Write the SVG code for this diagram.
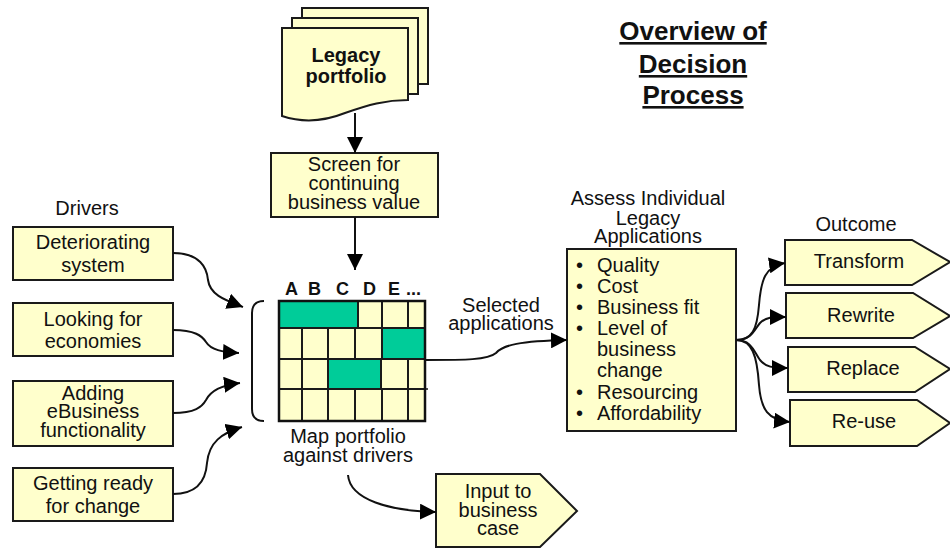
<svg xmlns="http://www.w3.org/2000/svg" width="950" height="549" viewBox="0 0 950 549">
<defs>
<style>
text{font-family:"Liberation Sans",Arial,sans-serif;font-size:20px;fill:#111;text-anchor:middle}
.b{font-weight:bold}
.t{font-weight:bold;font-size:26px;text-decoration:underline}
.hd{font-weight:bold;font-size:18px;text-anchor:start}
.l{text-anchor:start}
.box{fill:#FFFFCC;stroke:#1a1a1a;stroke-width:2}
.g{fill:#00CC99;stroke:#1a1a1a;stroke-width:2}
.c{fill:none;stroke:#111;stroke-width:2}
</style>
<marker id="ah" markerUnits="userSpaceOnUse" markerWidth="16" markerHeight="16" refX="16" refY="8" orient="auto">
<path d="M0,0 L16,8 L0,16 Z" fill="#000"/>
</marker>
</defs>
<rect width="950" height="549" fill="#fff"/>

<g id="title">
<text class="t" x="693" y="40">Overview of</text>
<text class="t" x="693" y="73">Decision</text>
<text class="t" x="693" y="104">Process</text>
</g>

<g id="legacy">
<rect class="box" x="302" y="8" width="126" height="76"/>
<rect class="box" x="292" y="18" width="126" height="76"/>
<path class="box" d="M282,28 H408 V100 C385,100 368,105 345,113 C320,123 300,122 282,116 Z"/>
<text class="b" x="346" y="62">Legacy</text>
<text class="b" x="346" y="83">portfolio</text>
</g>

<g id="screen">
<rect class="box" x="271" y="153" width="167" height="64"/>
<text x="354" y="171">Screen for</text>
<text x="354" y="190">continuing</text>
<text x="354" y="209">business value</text>
</g>

<g id="drivers-label"><text x="87" y="215">Drivers</text></g>

<g id="d1">
<rect class="box" x="13" y="227" width="160" height="53"/>
<text x="93" y="249">Deteriorating</text>
<text x="93" y="272">system</text>
</g>
<g id="d2">
<rect class="box" x="13" y="303" width="160" height="53"/>
<text x="93" y="326">Looking for</text>
<text x="93" y="348">economies</text>
</g>
<g id="d3">
<rect class="box" x="13" y="381" width="160" height="65"/>
<text x="93" y="400">Adding</text>
<text x="93" y="418">eBusiness</text>
<text x="93" y="437">functionality</text>
</g>
<g id="d4">
<rect class="box" x="13" y="468" width="160" height="53"/>
<text x="93" y="490">Getting ready</text>
<text x="93" y="513">for change</text>
</g>

<g id="grid">
<path class="c" d="M264,301 C256,301 252,305 252,313 L252,409 C252,417 256,421 264,421"/>
<text class="hd" x="285" y="295">A</text>
<text class="hd" x="308" y="295">B</text>
<text class="hd" x="336" y="295">C</text>
<text class="hd" x="363" y="295">D</text>
<text class="hd" x="388" y="295">E</text>
<text class="hd" x="406" y="295">...</text>
<rect class="g" x="279" y="301" width="79" height="27"/>
<rect class="box" x="358" y="301" width="24" height="27"/>
<rect class="box" x="382" y="301" width="26" height="27"/>
<rect class="box" x="408" y="301" width="17" height="27"/>
<rect class="box" x="279" y="328" width="23" height="31"/>
<rect class="box" x="302" y="328" width="26" height="31"/>
<rect class="box" x="328" y="328" width="27" height="31"/>
<rect class="box" x="355" y="328" width="27" height="31"/>
<rect class="g" x="382" y="328" width="43" height="31"/>
<rect class="box" x="279" y="359" width="23" height="30"/>
<rect class="box" x="302" y="359" width="26" height="30"/>
<rect class="g" x="328" y="359" width="53" height="30"/>
<rect class="box" x="381" y="359" width="27" height="30"/>
<rect class="box" x="408" y="359" width="17" height="30"/>
<rect class="box" x="279" y="389" width="23" height="32"/>
<rect class="box" x="302" y="389" width="26" height="32"/>
<rect class="box" x="328" y="389" width="27" height="32"/>
<rect class="box" x="355" y="389" width="27" height="32"/>
<rect class="box" x="382" y="389" width="26" height="32"/>
<rect class="box" x="408" y="389" width="17" height="32"/>
<rect x="279" y="301" width="146" height="120" fill="none" stroke="#111" stroke-width="2.5"/>
<line x1="425" y1="389" x2="428" y2="389" stroke="#111" stroke-width="1.5"/>
<text x="348" y="443">Map portfolio</text>
<text x="348" y="462">against drivers</text>
</g>

<g id="input">
<path class="box" d="M436,474 H540 L577,511 L540,547 H436 Z"/>
<text x="498" y="498">Input to</text>
<text x="498" y="517">business</text>
<text x="498" y="535">case</text>
</g>

<g id="assess">
<text x="648" y="205">Assess Individual</text>
<text x="648" y="225">Legacy</text>
<text x="648" y="243">Applications</text>
<rect class="box" x="567" y="249" width="169" height="182"/>
<g class="l">
<text class="l" x="576" y="272">•</text><text class="l" x="597" y="272">Quality</text>
<text class="l" x="576" y="293">•</text><text class="l" x="597" y="293">Cost</text>
<text class="l" x="576" y="314">•</text><text class="l" x="597" y="314">Business fit</text>
<text class="l" x="576" y="335">•</text><text class="l" x="597" y="335">Level of</text>
<text class="l" x="597" y="356">business</text>
<text class="l" x="597" y="377">change</text>
<text class="l" x="576" y="399">•</text><text class="l" x="597" y="399">Resourcing</text>
<text class="l" x="576" y="420">•</text><text class="l" x="597" y="420">Affordability</text>
</g>
</g>

<g id="selected-label">
<text x="501" y="312">Selected</text>
<text x="501" y="330">applications</text>
</g>

<g id="outcome-label"><text x="856" y="231">Outcome</text></g>
<g id="transform">
<path class="box" d="M785,240 H912 L950,262 L912,285 H785 Z"/>
<text x="859" y="268">Transform</text>
</g>
<g id="rewrite">
<path class="box" d="M786,293 H913 L950,316 L913,338 H786 Z"/>
<text x="861" y="322">Rewrite</text>
</g>
<g id="replace">
<path class="box" d="M788,347 H915 L950,369 L915,392 H788 Z"/>
<text x="863" y="375">Replace</text>
</g>
<g id="reuse">
<path class="box" d="M790,400 H917 L950,423 L917,446 H790 Z"/>
<text x="864" y="428">Re-use</text>
</g>

<g id="connectors" class="c" marker-end="url(#ah)">
<path class="c" marker-end="url(#ah)" d="M355,113 V153"/>
<path class="c" marker-end="url(#ah)" d="M355,217 V270"/>
<path class="c" marker-end="url(#ah)" d="M173,253 C200,253 207,268 208,280 C210,295 225,300 243,307"/>
<path class="c" marker-end="url(#ah)" d="M173,330 C195,330 202,336 206,342 C211,350 222,352 239,353"/>
<path class="c" marker-end="url(#ah)" d="M173,413 C195,413 202,407 206,400 C211,390 222,385 240,383"/>
<path class="c" marker-end="url(#ah)" d="M173,494 C200,494 206,478 207,463 C209,442 222,433 242,427"/>
<path class="c" marker-end="url(#ah)" d="M425,360 C465,360 488,360 496,353 C503,345 520,341 567,340"/>
<path class="c" marker-end="url(#ah)" d="M348,475 C350,500 390,511 436,512"/>
<path class="c" marker-end="url(#ah)" d="M736,340 C752,340 757,330 759,305 C761,280 765,266 785,263"/>
<path class="c" marker-end="url(#ah)" d="M736,340 C752,340 754,330 760,323 C766,317 772,317 786,317"/>
<path class="c" marker-end="url(#ah)" d="M736,340 C752,340 754,352 760,360 C766,367 772,368 788,368"/>
<path class="c" marker-end="url(#ah)" d="M736,340 C752,340 757,355 759,385 C761,410 768,420 790,422"/>
</g>
</svg>
